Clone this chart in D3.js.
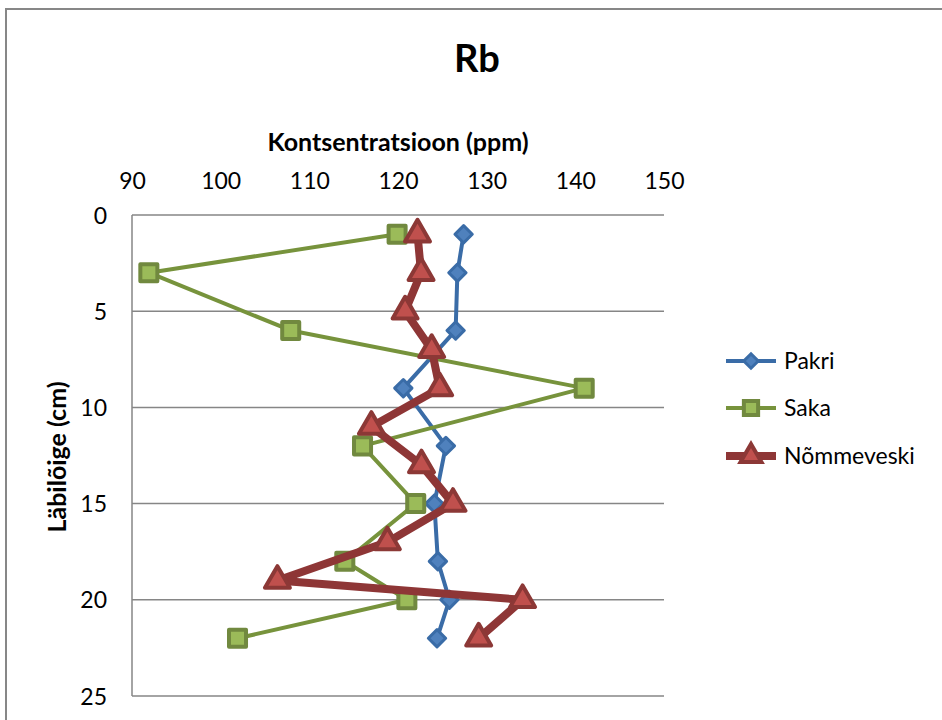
<!DOCTYPE html>
<html>
<head>
<meta charset="utf-8">
<script src="https://cdn.jsdelivr.net/npm/d3@7"></script>
<style>
  html, body { margin: 0; padding: 0; background: #fff; }
  svg { display: block; font-family: Lato, "Open Sans", sans-serif; }
</style>
</head>
<body>
<svg id="chart" width="942" height="720"></svg>
<script>
// ---- data ----
const title = "Rb";
const xTitle = "Kontsentratsioon (ppm)";
const yTitle = "Läbilõige (cm)";
const xTicks = [90, 100, 110, 120, 130, 140, 150];
const yTicks = [0, 5, 10, 15, 20, 25];
const seriesNames = ["Pakri", "Saka", "Nõmmeveski"];

const pakriDepth = [1, 3, 6, 9, 12, 15, 18, 20, 22];
const pakriValues = [127.4, 126.7, 126.5, 120.6, 125.4, 124.1, 124.5, 125.8, 124.4];

const sakaDepth = [1, 3, 6, 9, 12, 15, 18, 20, 22];
const sakaValues = [119.9, 91.9, 107.9, 141.0, 116.0, 122.0, 114.0, 121.0, 101.9];

const nommeDepth = [1, 3, 5, 7, 9, 11, 13, 15, 17, 19, 20, 22];
const nommeValues = [122.2, 122.6, 120.8, 123.8, 124.7, 117.0, 122.65, 126.2, 118.8, 106.4, 134.05, 129.1];

// ---- drawing ----
const svg = d3.select("#chart");

// outer chart border (cropped Excel chart)
svg.append("rect").attr("x", 6).attr("y", 9).attr("width", 960).attr("height", 740)
  .attr("fill", "#fff").attr("stroke", "#878787").attr("stroke-width", 2);

const x = d3.scaleLinear().domain([90, 150]).range([132, 664]);
const y = d3.scaleLinear().domain([0, 25]).range([215, 696]);

// gridlines
svg.append("g").selectAll("line").data(yTicks).join("line")
  .attr("x1", x(90)).attr("x2", x(150))
  .attr("y1", d => y(d)).attr("y2", d => y(d))
  .attr("stroke", "#868686").attr("stroke-width", 1.5);

// left axis line
svg.append("line").attr("x1", x(90)).attr("x2", x(90)).attr("y1", y(0)).attr("y2", y(25))
  .attr("stroke", "#868686").attr("stroke-width", 1.5);

// top axis labels
const xAxis = d3.axisTop(x).tickValues(xTicks).tickSize(0).tickPadding(0).tickFormat(d3.format("d"));
const gx = svg.append("g").attr("transform", `translate(0,${y(0) - 34})`).call(xAxis);
gx.select(".domain").remove();
gx.selectAll("text").attr("font-size", 23).attr("fill", "#000").attr("font-family", "Lato, sans-serif")
  .attr("dy", "0.35em").attr("y", 0);

// left axis labels
const yAxis = d3.axisLeft(y).tickValues(yTicks).tickSize(0).tickPadding(0).tickFormat(d3.format("d"));
const gy = svg.append("g").attr("transform", `translate(${x(90) - 25},0)`).call(yAxis);
gy.select(".domain").remove();
gy.selectAll("text").attr("font-size", 23).attr("fill", "#000").attr("font-family", "Lato, sans-serif")
  .attr("dy", "0.35em");

// titles
svg.append("text").attr("x", 477).attr("y", 72).attr("text-anchor", "middle")
  .attr("font-size", 38).attr("font-weight", "bold").text(title);
svg.append("text").attr("x", 398).attr("y", 151).attr("text-anchor", "middle")
  .attr("font-size", 25).attr("font-weight", "bold").text(xTitle);
svg.append("text").attr("transform", `translate(66,457) rotate(-90)`).attr("text-anchor", "middle")
  .attr("font-size", 25).attr("font-weight", "bold").text(yTitle);

// series
const series = [
  { name: seriesNames[0], depth: pakriDepth, values: pakriValues, line: "#3A6CA7", fill: "#4F81BD", stroke: "#3A6CA7", lw: 4,
    sym: d3.symbolSquare, size: 150, rot: 45, sw: 3 },
  { name: seriesNames[1], depth: sakaDepth, values: sakaValues, line: "#77933C", fill: "#9BBB59", stroke: "#71893F", lw: 4,
    sym: d3.symbolSquare, size: 290, rot: 0, sw: 4 },
  { name: seriesNames[2], depth: nommeDepth, values: nommeValues, line: "#8E3636", fill: "#C0504D", stroke: "#8C3836", lw: 8,
    sym: d3.symbolTriangle, size: 270, rot: 0, sw: 4 }
];

const lineGen = d3.line().x(d => x(d.v)).y(d => y(d.d));

series.forEach(s => {
  const pts = s.depth.map((d, i) => ({ d: d, v: s.values[i] }));
  const g = svg.append("g");
  g.append("path").datum(pts).attr("d", lineGen)
    .attr("fill", "none").attr("stroke", s.line).attr("stroke-width", s.lw).attr("stroke-linejoin", "round");
  g.selectAll("path.m").data(pts).join("path").attr("class", "m")
    .attr("d", d3.symbol().type(s.sym).size(s.size))
    .attr("transform", d => `translate(${x(d.v)},${y(d.d)}) rotate(${s.rot})`)
    .attr("fill", s.fill).attr("stroke", s.stroke).attr("stroke-width", s.sw).attr("stroke-linejoin", "round");
});

// legend
const legendY = [361, 408, 456];
series.forEach((s, i) => {
  const g = svg.append("g").attr("transform", `translate(0,${legendY[i]})`);
  g.append("line").attr("x1", 726).attr("x2", 776).attr("y1", 0).attr("y2", 0)
    .attr("stroke", s.line).attr("stroke-width", s.lw);
  g.append("path").attr("d", d3.symbol().type(s.sym).size(s.size * 0.7))
    .attr("transform", `translate(751,0) rotate(${s.rot})`)
    .attr("fill", s.fill).attr("stroke", s.stroke).attr("stroke-width", s.sw);
  g.append("text").attr("x", 784).attr("y", 0).attr("dy", "0.35em")
    .attr("font-size", 23).attr("fill", "#000").text(s.name);
});
</script>
</body>
</html>
